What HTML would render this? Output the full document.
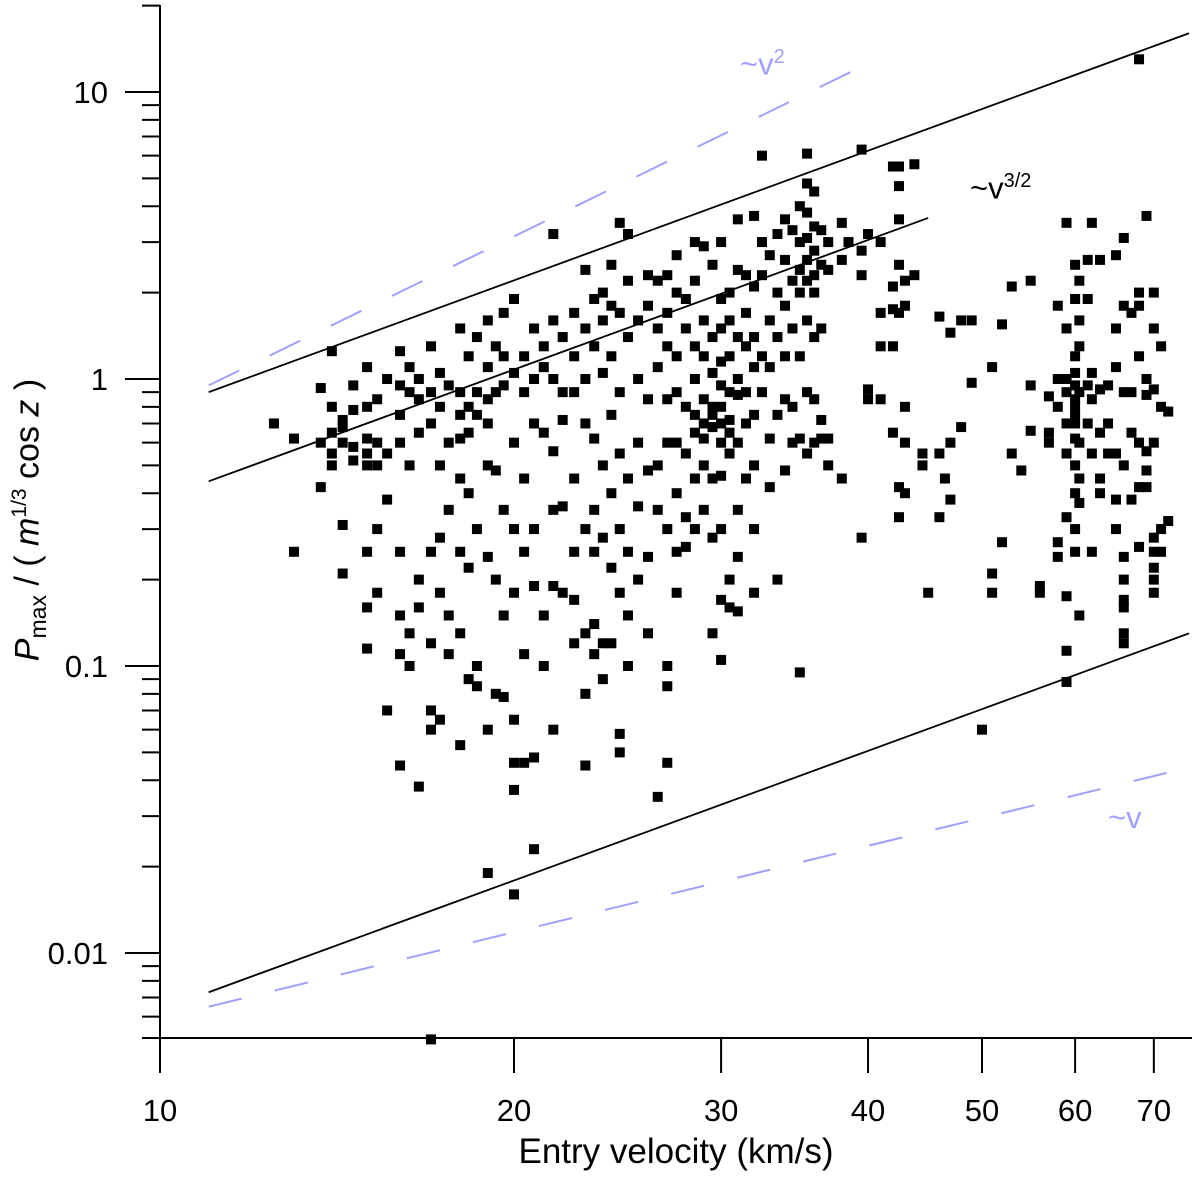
<!DOCTYPE html>
<html><head><meta charset="utf-8"><style>
html,body{margin:0;padding:0;background:#fff;}
svg{display:block;font-family:"Liberation Sans",sans-serif;}
</style></head><body>
<svg id="chart" width="1200" height="1178" viewBox="0 0 1200 1178"></svg>
<script>
const velocityGroups=[12.5,13,13.7,14,14.3,14.6,15,15.3,15.6,16,16.3,16.6,17,17.3,17.6,18,18.3,18.6,19,19.3,19.6,20,20.4,20.8,21.2,21.6,22,22.5,23,23.4,23.8,24.2,24.6,25,25.5,26,26.5,27,27.5,28,28.5,29,29.5,30,30.5,31,31.5,32,32.5,33,33.5,34,34.5,35,35.5,36,36.5,37,38,38.5,39.5,40,41,42,42.5,43,43.8,44.5,45,46,46.5,47,48,49,50,51,52,53,54,55,56,57,58,59,60,60.5,61.5,62,63,64,65,66,67,68,69,70,71,72];
const pmaxGroups=[[0.7],[0.25,0.62],[0.93,0.42,0.6],[0.5,0.65,0.8,1.25,0.55],[0.72,0.68,0.31,0.21,0.6],[0.78,0.95,0.58,0.52],[0.8,0.62,0.55,0.5,1.1,0.16,0.25,0.115],[0.3,0.18,0.6,0.85,0.5],[0.55,1.0,0.38,0.07],[1.25,0.75,0.95,0.6,0.15,0.25,0.045,0.11],[0.9,1.1,0.5,0.13,0.1],[1.0,0.85,0.65,0.2,0.16,0.038],[1.3,0.9,0.7,0.25,0.12,0.07,0.06,0.005],[1.05,0.8,0.5,0.28,0.18,0.065],[0.95,0.6,0.35,0.15,0.11],[0.9,0.75,0.62,1.5,0.45,0.25,0.13,0.053],[1.2,0.8,0.65,0.4,0.22,0.09],[1.4,0.9,0.75,0.3,0.1,0.085],[1.6,1.1,0.85,0.7,0.5,0.24,0.06,0.019],[1.3,0.9,0.48,0.2,0.08],[1.7,1.2,0.95,0.35,0.15,0.078],[1.9,1.05,0.6,0.3,0.18,0.065,0.046,0.016,0.037],[1.2,0.9,0.45,0.25,0.11,0.046],[1.5,1.0,0.7,0.3,0.19,0.048,0.023],[1.1,1.3,0.65,0.15,0.1],[3.2,1.6,1.0,0.56,0.35,0.19,0.06],[1.4,0.9,0.72,0.36,0.18],[1.7,1.2,0.9,0.45,0.25,0.17,0.12],[2.4,1.5,1.0,0.7,0.3,0.13,0.08,0.045],[1.9,1.3,0.62,0.35,0.25,0.14,0.11],[2.0,1.6,1.05,0.5,0.28,0.12,0.09],[2.5,1.8,1.2,0.75,0.4,0.22,0.12],[3.5,1.7,0.9,0.55,0.3,0.18,0.058,0.05],[3.2,2.2,1.4,0.45,0.25,0.15,0.1],[1.6,1.0,0.6,0.36,0.2],[2.3,1.8,0.85,0.48,0.24,0.13],[2.2,1.5,1.1,0.5,0.35,0.035],[2.3,1.7,1.3,0.85,0.6,0.3,0.1,0.085,0.046],[2.7,2.0,1.2,0.9,0.6,0.4,0.25,0.18],[1.9,1.5,0.8,0.55,0.33,0.26],[3.0,2.2,1.3,1.0,0.75,0.65,0.45,0.3],[2.9,1.6,1.2,0.85,0.7,0.62,0.5,0.35],[2.5,1.4,1.05,0.8,0.75,0.68,0.45,0.28,0.13],[3.0,1.9,1.5,1.15,0.95,0.8,0.7,0.6,0.46,0.3,0.17,0.105],[2.0,1.6,1.2,0.9,0.72,0.65,0.55,0.2,0.16],[3.6,2.4,1.4,1.0,0.88,0.6,0.35,0.24,0.155],[2.3,1.7,1.3,0.9,0.7,0.45],[3.7,2.1,1.4,1.1,0.75,0.5,0.3,0.18],[6.0,3.0,2.3,1.2,0.9],[2.7,1.6,1.1,0.62,0.42],[3.2,2.0,1.4,0.75,0.2],[3.6,2.6,1.8,1.2,0.85,0.48],[3.3,2.2,1.5,0.8,0.6],[4.0,3.0,2.4,2.0,1.2,0.62,0.095],[6.1,4.8,3.8,3.1,2.6,2.2,1.6,0.9,0.55],[4.5,3.4,2.8,2.3,2.0,1.4,0.85,0.6],[3.3,2.5,1.5,0.72,0.62],[3.0,2.4,0.5,0.62],[3.5,2.6,0.45],[3.0],[6.3,2.8,2.3,0.28],[3.2,0.92,0.85],[3.0,1.7,1.3,0.85],[5.5,2.1,1.75,1.3,0.65],[5.5,4.7,3.6,2.5,1.7,0.42,0.33],[2.2,1.8,0.8,0.6,0.4],[5.6,2.3],[0.55,0.5],[0.18],[1.65,0.33,0.55],[0.45],[1.45,0.38,0.6],[1.6,0.68],[1.6,0.97],[0.06],[1.1,0.21,0.18],[1.55,0.27],[2.1,0.55],[0.48],[2.2,0.95,0.66],[0.18,0.19],[0.87,0.65,0.6],[1.8,1.0,0.8,0.27,0.24],[3.5,1.5,1.0,0.9,0.7,0.55,0.33,0.175,0.113,0.088],[2.5,1.9,1.2,1.05,0.95,0.85,0.8,0.75,0.7,0.62,0.5,0.4,0.3,0.25],[2.2,1.6,1.3,0.9,0.6,0.45,0.37,0.15],[2.6,1.9,0.95,0.7],[3.5,1.05,0.85,0.55,0.25],[2.6,0.92,0.65,0.45,0.4],[0.95,0.7,0.55],[2.7,1.5,1.1,0.55,0.38,0.3],[3.1,1.8,0.9,0.5,0.24,0.2,0.17,0.16,0.13,0.12],[1.7,0.9,0.65,0.38],[13,2.0,1.8,1.2,0.6,0.42,0.26],[3.7,1.0,0.88,0.56,0.48,0.42],[2.0,1.5,0.92,0.6,0.28,0.25,0.22,0.2,0.18],[1.3,0.8,0.3,0.25],[0.77,0.32]];
const xTickValues=[10,20,30,40,50,60,70];
const yTickValues=[0.01,0.1,1,10];
const yTickLabels=["0.01","0.1","1","10"];
// reference lines: [coef at v=1, exponent, vStart, vEnd]
const solidLines=[[0.9/Math.pow(11,1.5),1.5,11,75],[0.44/Math.pow(11,1.5),1.5,11,45],[0.0073/Math.pow(11,1.5),1.5,11,75]];
const dashedLines=[[0.95/121,2,11,40],[0.0065/11,1,11,75]];

const NS="http://www.w3.org/2000/svg";
const svg=document.getElementById('chart');
const X0=160,PXD=1176,Y1=379,PYD=287;
function xs(v){return X0+PXD*(Math.log10(v)-1);}
function ys(p){return Y1-PYD*Math.log10(p);}
function mk(tag,attrs,parent){const e=document.createElementNS(NS,tag);for(const k in attrs)e.setAttribute(k,attrs[k]);(parent||svg).appendChild(e);return e;}

let a=mk('line',{x1:160,y1:5,x2:160,y2:1073,stroke:'#000','stroke-width':2});


a=mk('line',{x1:142,y1:1038,x2:1192,y2:1038,stroke:'#000','stroke-width':2});


xTickValues.forEach(v=>{
  const t=mk('line',{x1:xs(v),y1:1038,x2:xs(v),y2:1073,stroke:'#000','stroke-width':2});
  
  
  const l=mk('text',{x:xs(v),y:1121,'text-anchor':'middle','font-size':31});
  l.textContent=v;
  
  
});
for(let d=-3;d<=1;d++){for(let m=1;m<=9;m++){const p=m*Math.pow(10,d);const y=ys(p);if(y<5||y>1038)continue;
  const t=mk('line',{x1:m===1?125:142,y1:y,x2:160,y2:y,stroke:'#000','stroke-width':2});
  
  }}
yTickValues.forEach((p,i)=>{
  const l=mk('text',{x:108,y:ys(p)+11,'text-anchor':'end','font-size':31});
  l.textContent=yTickLabels[i];
  
  
});
function drawLine(L,dashed,name){const [c,e,v0,v1]=L;
  const ln=mk('line',{x1:xs(v0),y1:ys(c*Math.pow(v0,e)),x2:xs(v1),y2:ys(c*Math.pow(v1,e)),stroke:dashed?'#a0a0ff':'#000','stroke-width':dashed?2:1.8,'stroke-dasharray':dashed?'34 34':'none'});
  
  }
solidLines.forEach((L,i)=>drawLine(L,false,'power-law-line-'+(i+1)));
dashedLines.forEach((L,i)=>drawLine(L,true,'dashed-guide-'+(i+1)));
const g=mk('g',{fill:'#000'});


velocityGroups.forEach((v,i)=>{pmaxGroups[i].forEach(p=>{
  const r=mk('rect',{x:xs(v)-5,y:ys(p)-5,width:10,height:10},g);
  
  
});});
</script>
<div style="position:absolute;left:0;top:0;width:1200px;height:1178px;pointer-events:none;font-family:'Liberation Sans',sans-serif;">
  <div style="position:absolute;left:0;width:1352px;top:1132px;text-align:center;font-size:35px;">Entry velocity (km/s)</div>
  <div style="position:absolute;left:30px;top:520px;font-size:34px;white-space:nowrap;transform:translate(-50%,-50%) rotate(-90deg);"><i>P</i><sub style="font-size:23px">max</sub> / ( <i>m</i><sup style="font-size:21px">1/3</sup> cos <i>z</i> )</div>
  <div style="position:absolute;left:740px;top:46px;font-size:31px;color:#a0a0ff;">~v<sup style="font-size:20px">2</sup></div>
  <div style="position:absolute;left:970px;top:170px;font-size:31px;color:#000;">~v<sup style="font-size:20px">3/2</sup></div>
  <div style="position:absolute;left:1108px;top:800px;font-size:31px;color:#a0a0ff;">~v</div>
</div>
</body></html>
